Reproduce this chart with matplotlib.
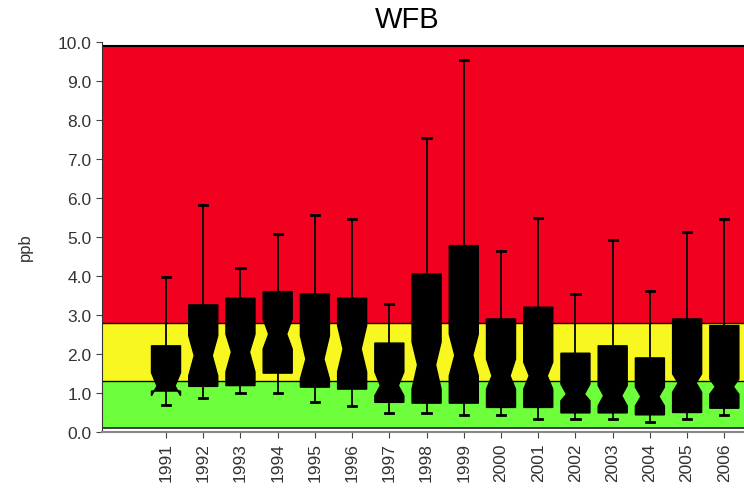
import numpy as np
import matplotlib.pyplot as plt

plt.rcParams['font.family'] = ['Liberation Sans', 'DejaVu Sans']

# yearly concentration summaries (ppb)
years = [str(y) for y in range(1991, 2007)]
q1 = [1.05, 1.17, 1.19, 1.51, 1.15, 1.10, 0.76, 0.74, 0.74, 0.63, 0.63, 0.49, 0.49, 0.44, 0.50, 0.61]
q3 = [2.21, 3.26, 3.43, 3.60, 3.54, 3.43, 2.28, 4.05, 4.78, 2.90, 3.20, 2.02, 2.21, 1.90, 2.90, 2.73]
med = [1.18, 1.96, 2.05, 2.51, 1.87, 2.13, 1.19, 1.72, 1.97, 1.44, 1.44, 0.97, 0.93, 0.91, 1.26, 1.16]
ci_lo = [0.93, 1.44, 1.54, 2.13, 1.36, 1.54, 0.93, 1.10, 1.44, 1.10, 1.10, 0.80, 0.67, 0.67, 1.02, 0.97]
ci_hi = [1.52, 2.47, 2.51, 2.90, 2.47, 2.73, 1.54, 2.31, 2.51, 1.87, 1.79, 1.23, 1.19, 1.15, 1.49, 1.36]
whis_lo = [0.69, 0.87, 1.00, 1.00, 0.78, 0.66, 0.50, 0.48, 0.44, 0.44, 0.33, 0.33, 0.33, 0.25, 0.33, 0.44]
whis_hi = [3.98, 5.82, 4.20, 5.08, 5.56, 5.46, 3.28, 7.53, 9.55, 4.63, 5.50, 3.54, 4.93, 3.62, 5.12, 5.46]

# threshold bands
green_top = 1.3
yellow_top = 2.8

RED = '#f2001f'
YELLOW = '#f8f820'
GREEN = '#6eff3c'
TXT = '#333333'

BOX_W = 0.78

fig = plt.figure(figsize=(7.44, 4.89), dpi=100)
ax = fig.add_axes([102 / 744, 56 / 489, 667 / 744, 390 / 489])

ax.axhspan(0.1, green_top, color=GREEN, zorder=0, lw=0)
ax.axhspan(green_top, yellow_top, color=YELLOW, zorder=0, lw=0)
ax.axhspan(yellow_top, 9.9, color=RED, zorder=0, lw=0)
for y in (green_top, yellow_top):
    ax.axhline(y, color='black', lw=1.0, zorder=1)
ax.axhline(9.9, color='black', lw=1.5, zorder=1)
ax.axhline(0.1, color='#222222', lw=1.2, zorder=1)

stats = []
for i, lab in enumerate(years):
    stats.append(dict(label=lab, med=med[i], q1=q1[i], q3=q3[i],
                      whislo=whis_lo[i], whishi=whis_hi[i],
                      cilo=ci_lo[i], cihi=ci_hi[i], fliers=[]))

res = ax.bxp(stats, positions=range(len(years)), widths=BOX_W, shownotches=True,
             patch_artist=True, showfliers=False, capwidths=0.22,
             boxprops=dict(facecolor='black', edgecolor='black', lw=1),
             whiskerprops=dict(color='black', lw=1.3),
             capprops=dict(color='black', lw=2),
             medianprops=dict(color='black', lw=1))

# shallower notches: pull the waist points outwards
for pos, box in enumerate(res['boxes']):
    verts = box.get_path().vertices
    for v in verts:
        dx = v[0] - pos
        if abs(abs(dx) - BOX_W * 0.25) < 1e-9:
            v[0] = pos + np.sign(dx) * BOX_W * 0.31

ax.set_xlim(-1.72, 16.2)
ax.set_ylim(0, 10)
ax.set_yticks(np.arange(0, 10.1, 1.0))
ax.set_yticklabels([f'{v:.1f}' for v in np.arange(0, 10.1, 1.0)])
ax.tick_params(axis='y', labelsize=12.5, labelcolor=TXT, color='#444444', length=4)
ax.tick_params(axis='x', labelsize=12.5, labelcolor=TXT, color='#444444',
               length=4, labelrotation=90)

for side in ('top', 'right'):
    ax.spines[side].set_visible(False)
ax.spines['left'].set_color('#333333')
ax.spines['bottom'].set_color('#888888')
ax.spines['bottom'].set_linewidth(1.5)

fig.text(407 / 744, 1 - 20 / 489, 'WFB', ha='center', va='center', fontsize=21)
fig.text(25 / 744, 1 - 247 / 489, 'ppb', ha='center', va='center',
         rotation=90, fontsize=12, color=TXT)

fig.savefig('out.png', dpi=100)
